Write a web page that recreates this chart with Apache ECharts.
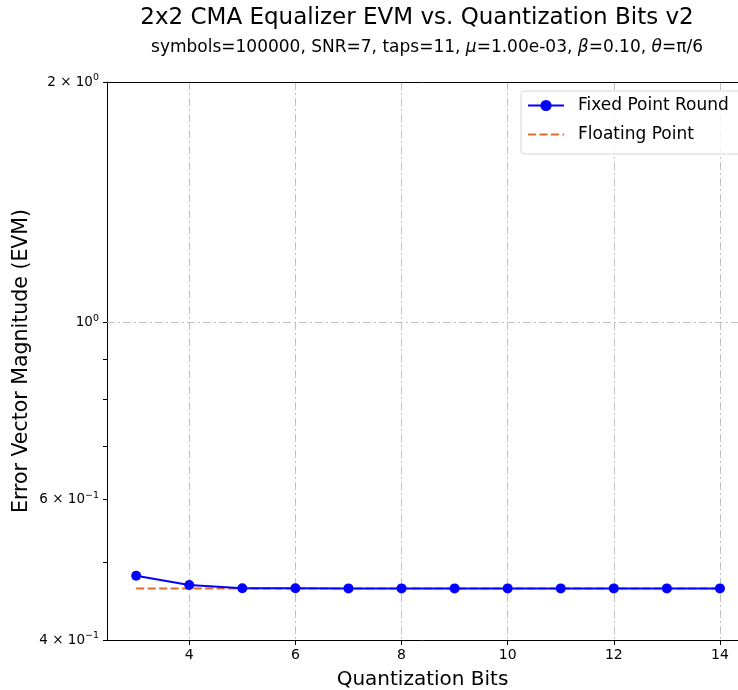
<!DOCTYPE html>
<html>
<head>
<meta charset="utf-8">
<script src="https://cdn.jsdelivr.net/npm/echarts@6/dist/echarts.min.js"></script>
<style>html,body{margin:0;padding:0;background:#fff}#c{width:738px;height:690px}</style>
</head>
<body>
<div id="c"></div>
<script>
var bits = [3, 4, 5, 6, 7, 8, 9, 10, 11, 12, 13, 14];
var fixedRound = [0.4814, 0.4688, 0.4645, 0.4643, 0.4642, 0.4642, 0.4642, 0.4642, 0.4642, 0.4642, 0.4642, 0.4642];
var floatingPt = [0.4640, 0.4640, 0.4640, 0.4640, 0.4640, 0.4640, 0.4640, 0.4640, 0.4640, 0.4640, 0.4640, 0.4640];
var xTicks = [4, 6, 8, 10, 12, 14];
var yTickVals = [0.4, 0.5, 0.6, 0.7, 0.8, 0.9, 1, 2];
var yLabelVals = [0.4, 0.6, 1, 2];
var yLabelMant = ['4', '6', '', '2'];
var yLabelExp = ['\u22121', '\u22121', '0', '0'];
var titleText = '2x2 CMA Equalizer EVM vs. Quantization Bits v2';
var subText = 'symbols=100000, SNR=7, taps=11, {i|\u03bc}=1.00e-03, {i|\u03b2}=0.10, {i|\u03b8}=\u03c0/6';

var FONT = 'DejaVu Sans';
var chart = echarts.init(document.getElementById('c'), null, {renderer: 'canvas'});
var gridDash = [8, 3, 2, 3];

function yFmt(v) {
  for (var i = 0; i < yLabelVals.length; i++) {
    if (Math.abs(v - yLabelVals[i]) < 1e-9) {
      var m = yLabelMant[i];
      return (m ? '{b|' + m + ' \u00d7 10}' : '{b|10}') + '{s|' + yLabelExp[i] + '}';
    }
  }
  return '';
}

var option = {
  animation: false,
  backgroundColor: '#fff',
  textStyle: {fontFamily: FONT},
  title: [
    {text: titleText, left: 417, top: 7, textAlign: 'center', padding: 0,
     textStyle: {fontFamily: FONT, fontSize: 23, fontWeight: 'normal', color: '#000'}},
    {text: subText, left: 427, top: 39, textAlign: 'center', padding: 0,
     textStyle: {fontFamily: FONT, fontSize: 17, fontWeight: 'normal', color: '#000',
       rich: {i: {fontFamily: FONT, fontSize: 17, fontStyle: 'italic', color: '#000'}}}}
  ],
  legend: {
    orient: 'vertical', left: 521, top: 91,
    padding: [6, 40, 11, 6], itemGap: 12, itemWidth: 36, itemHeight: 14,
    backgroundColor: 'rgba(255,255,255,0.8)', borderColor: '#d6d6d6', borderWidth: 1, borderRadius: 3,
    textStyle: {fontFamily: FONT, fontSize: 17, color: '#000', padding: [0, 0, 0, 9]},
    data: [
      {name: 'Fixed Point Round'},
      {name: 'Floating Point', itemStyle: {color: 'rgba(0,0,0,0)', borderWidth: 0}}
    ]
  },
  grid: {left: 107, right: 0, top: 82, bottom: 50, show: false, containLabel: false, outerBoundsMode: 'none'},
  xAxis: [{
    type: 'value', min: 2.45, max: 14.34,
    name: 'Quantization Bits', nameLocation: 'middle', nameGap: 30, nameMoveOverlap: false,
    nameTextStyle: {fontFamily: FONT, fontSize: 20, color: '#000'},
    axisLine: {show: true, lineStyle: {color: '#000', width: 1}},
    axisTick: {show: true, inside: false, length: 5, lineStyle: {color: '#000'}, customValues: xTicks},
    axisLabel: {show: true, fontFamily: FONT, fontSize: 14, color: '#000', margin: 8, customValues: xTicks},
    splitLine: {show: true, lineStyle: {color: '#b0b0b0', width: 0.8, type: gridDash}}
  }, {
    type: 'value', position: 'top', min: 2.45, max: 14.34,
    axisLine: {show: true, onZero: false, lineStyle: {color: '#000', width: 1}},
    axisTick: {show: false}, axisLabel: {show: false}, splitLine: {show: false}
  }],
  yAxis: {
    type: 'log', logBase: 10, min: 0.4, max: 2,
    name: 'Error Vector Magnitude (EVM)', nameLocation: 'middle', nameGap: 75, nameMoveOverlap: false,
    nameTextStyle: {fontFamily: FONT, fontSize: 20.5, color: '#000'},
    axisLine: {show: true, lineStyle: {color: '#000', width: 1}},
    axisTick: {show: true, inside: false, length: 4, lineStyle: {color: '#000'}, customValues: yTickVals},
    axisLabel: {show: true, color: '#000', margin: 8, customValues: yLabelVals, formatter: yFmt,
      rich: {
        b: {fontFamily: FONT, fontSize: 13.5, color: '#000'},
        s: {fontFamily: FONT, fontSize: 9.5, color: '#000', verticalAlign: 'bottom', padding: [0, 0, 8, 0]}
      }},
    splitLine: {show: false},
    minorTick: {show: false}
  },
  series: [
    {
      name: 'Fixed Point Round', type: 'line', z: 3, xAxisIndex: 0,
      data: bits.map(function (b, i) { return [b, fixedRound[i]]; }),
      symbol: 'circle', symbolSize: 10, showSymbol: true,
      lineStyle: {color: '#0000ff', width: 2},
      itemStyle: {color: '#0000ff'},
      markLine: {
        silent: true, symbol: 'none', label: {show: false}, animation: false,
        lineStyle: {color: '#b0b0b0', width: 0.8, type: gridDash},
        z: 1,
        data: [{yAxis: 1}]
      }
    },
    {
      name: 'Floating Point', type: 'line', z: 2, xAxisIndex: 0,
      data: bits.map(function (b, i) { return [b, floatingPt[i]]; }),
      symbol: 'none', showSymbol: false,
      lineStyle: {color: '#dd6d28', width: 2, type: [8, 3.5]},
      itemStyle: {color: '#dd6d28'}
    }
  ]
};
chart.setOption(option);
</script>
</body>
</html>
